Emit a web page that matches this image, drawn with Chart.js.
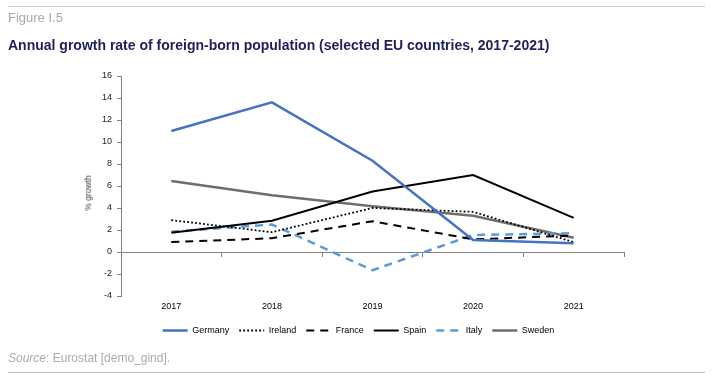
<!DOCTYPE html>
<html>
<head>
<meta charset="utf-8">
<script src="https://cdn.jsdelivr.net/npm/chart.js@4"></script>
<style>
  html, body { margin: 0; padding: 0; background: #fff; }
  #wrap { position: relative; width: 713px; height: 382px; overflow: hidden; font-family: "Liberation Sans", Arial, sans-serif; }
  #c { position: absolute; left: 0; top: 0; }
  .rule { position: absolute; left: 8px; width: 697px; height: 1px; background: #c8c8c8; }
  #fig { position: absolute; left: 8px; top: 10px; font-size: 13px; color: #aaaaaa; }
  #title { position: absolute; left: 8px; top: 37px; font-size: 14px; font-weight: bold; color: #1f1f5c; }
  #ylab { position: absolute; left: 88px; top: 193px; font-size: 8.5px; color: #404040; transform: translate(-50%, -50%) rotate(-90deg); white-space: nowrap; }
  #src { position: absolute; left: 8px; top: 351px; font-size: 12px; color: #aaaaaa; }
</style>
</head>
<body>
<div id="wrap">
  <canvas id="c" width="713" height="382"></canvas>
  <div class="rule" style="top:6px"></div>
  <div id="fig">Figure I.5</div>
  <div id="title">Annual growth rate of foreign-born population (selected EU countries, 2017-2021)</div>
  <div id="ylab">% growth</div>
  <div id="src"><i>Source</i>: Eurostat [demo_gind].</div>
  <div class="rule" style="top:372px; background:#bbbbbb"></div>
</div>
<script>
const years = ["2017", "2018", "2019", "2020", "2021"];
const germany = [11.0, 13.6, 8.3, 1.1, 0.8];
const ireland = [2.9, 1.8, 4.0, 3.65, 0.9];
const france  = [0.9, 1.25, 2.8, 1.15, 1.5];
const spain   = [1.75, 2.85, 5.5, 7.0, 3.1];
const italy   = [1.85, 2.5, -1.65, 1.55, 1.7];
const sweden  = [6.45, 5.15, 4.15, 3.3, 1.3];
const yTicks = { min: -4, max: 16, step: 2 };

const FONT = "'Liberation Sans', Arial, sans-serif";

function ds(label, data, color, width, dash) {
  return {
    label, data,
    borderColor: color, backgroundColor: color,
    borderWidth: width, borderDash: dash,
    pointRadius: 0, pointHoverRadius: 0, tension: 0, fill: false
  };
}

new Chart(document.getElementById('c'), {
  type: 'line',
  data: {
    labels: years,
    datasets: [
      ds('Germany', germany, '#4472c4', 2.5, []),
      ds('Ireland', ireland, '#000000', 1.8, [1.8, 2.2]),
      ds('France', france, '#000000', 2, [8, 6]),
      ds('Spain', spain, '#000000', 2, []),
      ds('Italy', italy, '#5b9bd5', 2.5, [8, 6]),
      ds('Sweden', sweden, '#6e6e6e', 2.5, [])
    ]
  },
  options: {
    responsive: false,
    animation: false,
    layout: { padding: { left: 93, right: 89, top: 76, bottom: 37 } },
    plugins: {
      tooltip: { enabled: false },
      legend: {
        position: 'bottom',
        labels: {
          usePointStyle: true,
          pointStyle: 'line',
          pointStyleWidth: 25,
          boxWidth: 25,
          padding: 10,
          color: '#000',
          font: { family: FONT, size: 9 },
          generateLabels: chart => {
            const items = Chart.defaults.plugins.legend.labels.generateLabels(chart);
            items.forEach(it => {
              const d = chart.data.datasets[it.datasetIndex];
              it.lineDash = d.borderDash;
              it.lineWidth = d.borderWidth;
              it.strokeStyle = d.borderColor;
              it.pointStyle = 'line';
            });
            return items;
          }
        }
      }
    },
    scales: {
      x: {
        type: 'category',
        position: 'bottom',
        offset: true,
        border: { display: false },
        grid: { display: false, drawTicks: false },
        ticks: { color: '#000', padding: 5, font: { family: FONT, size: 9 }, maxRotation: 0 },
        afterFit: s => { s.height = 20; }
      },
      x2: {
        type: 'category',
        axis: 'x',
        labels: years,
        offset: true,
        position: { y: 0 },
        border: { display: true, color: '#808080', width: 1 },
        grid: { drawOnChartArea: false, drawTicks: true, tickLength: 4, color: '#808080', offset: true },
        ticks: { display: false }
      },
      y: {
        position: 'left',
        min: yTicks.min, max: yTicks.max,
        border: { display: true, color: '#808080', width: 1 },
        grid: { drawOnChartArea: false, drawTicks: true, tickLength: 4, color: '#808080' },
        ticks: { stepSize: yTicks.step, color: '#222', padding: 5, font: { family: FONT, size: 9 } },
        afterFit: s => { s.width = 28; }
      }
    }
  }
});
</script>
</body>
</html>
